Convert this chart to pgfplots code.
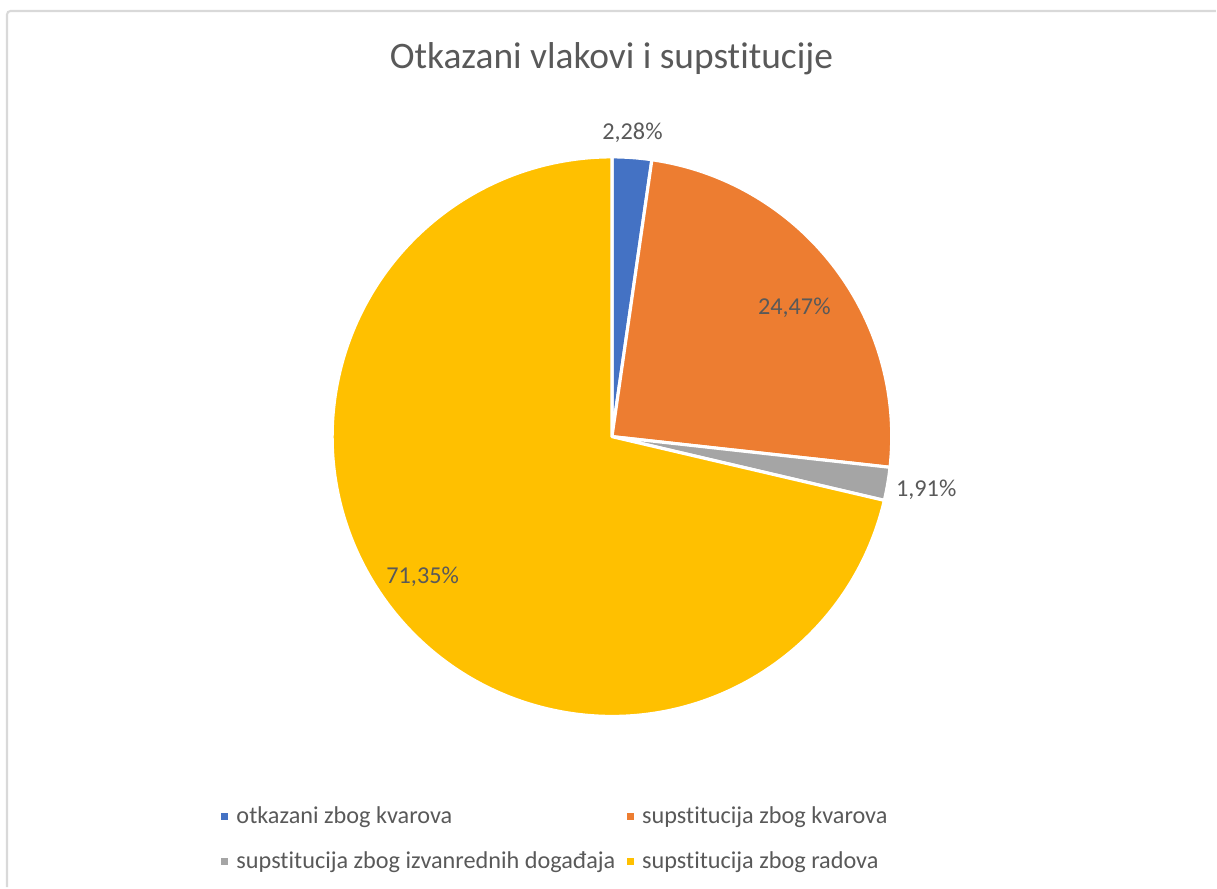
\documentclass[border=0pt]{standalone}
\usepackage{fontspec}
\setmainfont{Carlito}[Ligatures=NoCommon]
\usepackage{pgfplots}
\usepackage{pgfplotstable}
\pgfplotsset{compat=1.18}

\definecolor{cBlue}{HTML}{4472C4}
\definecolor{cOrange}{HTML}{ED7D31}
\definecolor{cGray}{HTML}{A5A5A5}
\definecolor{cYellow}{HTML}{FFC000}
\definecolor{txt}{HTML}{595959}
\definecolor{frame}{HTML}{D9D9D9}

% shares in percent, clockwise from 12 o'clock
\pgfplotstableread{
share
2.28
24.47
1.91
71.35
}\pietable

\begin{document}
\begin{tikzpicture}
\pgfplotstablegetelem{0}{share}\of\pietable \let\va\pgfplotsretval
\pgfplotstablegetelem{1}{share}\of\pietable \let\vb\pgfplotsretval
\pgfplotstablegetelem{2}{share}\of\pietable \let\vc\pgfplotsretval
\pgfmathsetmacro{\aA}{90-3.6*\va}
\pgfmathsetmacro{\aB}{\aA-3.6*\vb}
\pgfmathsetmacro{\aC}{\aB-3.6*\vc}
\def\R{2.8cm}
\begin{axis}[
    width=12.17cm, height=8.88cm, scale only axis,
    xmin=0, xmax=1217, ymin=0, ymax=888,
    hide axis, clip=false
]
\path (axis cs:0,0) rectangle (axis cs:1217,888);
% chart frame
\draw[frame, line width=0.6pt, rounded corners=1pt]
    (axis cs:7,0) -- (axis cs:7,877) -- (axis cs:1217,877);

% slices
\tikzset{slice/.style={draw=white, line width=0.9pt, line join=round}}
\fill[cBlue, slice] (axis cs:612.5,451) -- ++(90:\R)
    arc[start angle=90, end angle=\aA, radius=\R] -- cycle;
\fill[cOrange, slice] (axis cs:612.5,451) -- ++(\aA:\R)
    arc[start angle=\aA, end angle=\aB, radius=\R] -- cycle;
\fill[cGray, slice] (axis cs:612.5,451) -- ++(\aB:\R)
    arc[start angle=\aB, end angle=\aC, radius=\R] -- cycle;
\fill[cYellow, slice] (axis cs:612.5,451) -- ++(\aC:\R)
    arc[start angle=\aC, end angle=-270, radius=\R] -- cycle;

% title and data labels
\node[text=txt, font=\fontsize{10.65}{12}\selectfont] at (axis cs:612,829) {Otkazani vlakovi i supstitucije};
\tikzset{lab/.style={text=txt, font=\fontsize{6.9}{8}\selectfont, inner sep=0pt}}
\node[lab] at (axis cs:633,755) {2,28\%};
\node[lab] at (axis cs:795,580) {24,47\%};
\node[lab] at (axis cs:927,398) {1,91\%};
\node[lab] at (axis cs:423,311) {71,35\%};

% legend
\fill[cBlue] (axis cs:221,67) rectangle (axis cs:228,74);
\node[lab, anchor=base west] at (axis cs:236,64) {otkazani zbog kvarova};
\fill[cOrange] (axis cs:628,67) rectangle (axis cs:635,74);
\node[lab, anchor=base west] at (axis cs:642,64) {supstitucija zbog kvarova};
\fill[cGray] (axis cs:221,22) rectangle (axis cs:228,29);
\node[lab, anchor=base west] at (axis cs:236,19) {supstitucija zbog izvanrednih događaja};
\fill[cYellow] (axis cs:628,22) rectangle (axis cs:635,29);
\node[lab, anchor=base west] at (axis cs:642,19) {supstitucija zbog radova};
\end{axis}
\end{tikzpicture}
\end{document}
